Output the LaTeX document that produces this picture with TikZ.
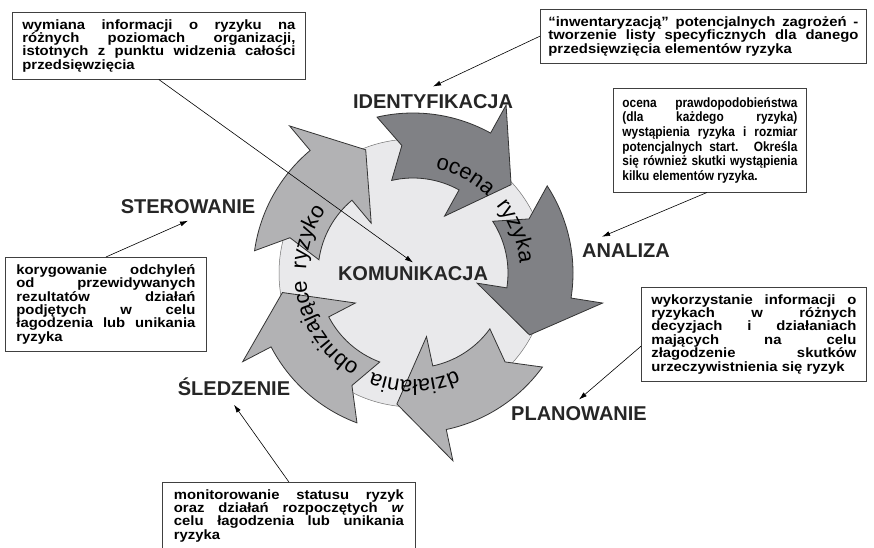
\documentclass[tikz,border=0pt]{standalone}
\usepackage{fontspec}
\setmainfont{Liberation Sans}
\newfontfamily\boxfont[FakeStretch=1.1]{Liberation Sans}
\newfontfamily\narrowboxfont[FakeStretch=0.88]{Liberation Sans}
\usetikzlibrary{arrows.meta,decorations.text}
\definecolor{discgray}{RGB}{233,233,235}
\definecolor{darkarrow}{RGB}{128,129,133}
\definecolor{lightarrow}{RGB}{178,178,180}
\newcommand\arcfont{\fontsize{22}{26}\selectfont}
\tolerance=10000
\hbadness=10000
\hyphenpenalty=10000

\begin{document}
\begin{tikzpicture}[x=1pt,y=1pt,
  infobox/.style={draw=black!75,fill=white,line width=0.8pt,anchor=north west,
    inner xsep=10pt,inner ysep=7pt,align=justify,
    font=\boxfont\bfseries\fontsize{13.5}{13.4}\selectfont},
  stage/.style={anchor=base,font=\bfseries\fontsize{20}{24}\selectfont,text=black!85},
  pointer/.style={-{Latex[length=8pt,width=5pt]},line width=0.6pt},
  ringarrow/.style={draw=black!80,line width=0.8pt}]
\useasboundingbox (0,0) rectangle (874,-547);

\draw[fill=discgray,draw=black!55,line width=0.5pt] (413,-273) circle (134);

\begin{scope}[shift={(413,-273)}]
\foreach \t/\c in {42/darkarrow,-28/darkarrow,-97/lightarrow,-171.5/lightarrow,111/lightarrow}
  \draw[ringarrow,fill=\c] (\t+61:160) arc[start angle=\t+61,end angle=\t+19,radius=160]
    -- (\t+19:192) -- (\t:132) -- (\t+19:65) -- (\t+19:95)
    arc[start angle=\t+19,end angle=\t+61,radius=95] -- (\t+53:128) -- cycle;

\path[decorate,decoration={text along path,text={|\arcfont|ocena}}]
  (78:107) arc[start angle=78,end angle=-2,radius=107];
\path[decorate,decoration={text along path,text={|\arcfont|ryzyka}}]
  (39:107) arc[start angle=39,end angle=-41,radius=107];
\path[decorate,decoration={text along path,text={|\arcfont|działania}}]
  (-66:107) arc[start angle=-66,end angle=-146,radius=107];
\path[decorate,decoration={text along path,text={|\arcfont|obniżające}}]
  (-120:107) arc[start angle=-120,end angle=-200,radius=107];
\path[decorate,decoration={text along path,text={|\arcfont|ryzyko}}]
  (178:107) arc[start angle=178,end angle=98,radius=107];
\end{scope}

\node[stage] (komun) at (413,-280) {KOMUNIKACJA};
\node[stage] (ident) at (433,-108) {IDENTYFIKACJA};
\node[stage] (anal) at (626,-257) {ANALIZA};
\node[stage] (plan) at (579,-420) {PLANOWANIE};
\node[stage] (sled) at (234,-395) {ŚLEDZENIE};
\node[stage] (ster) at (188,-213) {STEROWANIE};

\node[infobox,text width=273pt] (wymiana) at (12,-12)
  {wymiana informacji o ryzyku na\linebreak różnych poziomach organizacji,\linebreak
   istotnych z punktu widzenia całości\linebreak przedsięwzięcia};
\node[infobox,inner xsep=8pt,text width=310pt] (inwent) at (540,-9)
  {“inwentaryzacją” potencjalnych zagrożeń -\linebreak tworzenie listy specyficznych dla danego\linebreak
   przedsięwzięcia elementów ryzyka};
\node[infobox,inner xsep=9pt,inner ysep=9pt,text width=175pt,
  font=\narrowboxfont\bfseries\fontsize{13.5}{14.6}\selectfont] (ocena) at (613,-88)
  {ocena prawdopodobieństwa\linebreak (dla każdego ryzyka)\linebreak wystąpienia ryzyka i rozmiar\linebreak
   potencjalnych start. Określa\linebreak się również skutki wystąpienia\linebreak kilku elementów ryzyka.};
\node[infobox,inner xsep=11pt,text width=179pt] (koryg) at (5,-257)
  {korygowanie odchyleń\linebreak od przewidywanych\linebreak rezultatów działań\linebreak
   podjętych w celu\linebreak łagodzenia lub unikania\linebreak ryzyka};
\node[infobox,inner xsep=11.5pt,text width=230pt] (monit) at (162,-482)
  {monitorowanie statusu ryzyk\linebreak oraz działań rozpoczętych \textit{w}\linebreak
   celu łagodzenia lub unikania\linebreak ryzyka};
\node[infobox,text width=205pt] (wykorz) at (641,-287)
  {wykorzystanie informacji o\linebreak ryzykach w różnych\linebreak decyzjach i działaniach\linebreak
   mających na celu\linebreak złagodzenie skutków\linebreak urzeczywistnienia się ryzyk};

\draw[pointer] (wymiana.south) -- (komun.north);
\draw[pointer] (inwent.west) -- ([yshift=4pt]ident.north);
\draw[pointer] ([xshift=-3pt]ocena.south) -- ([xshift=-24pt,yshift=3pt]anal.north);
\draw[pointer] ([yshift=-12pt]wykorz.west) -- ([yshift=3pt]plan.north);
\draw[pointer] (monit.north) -- ([yshift=-6pt]sled.south);
\draw[pointer] (koryg.north) -- ([yshift=-4pt]ster.south);
\end{tikzpicture}
\end{document}
